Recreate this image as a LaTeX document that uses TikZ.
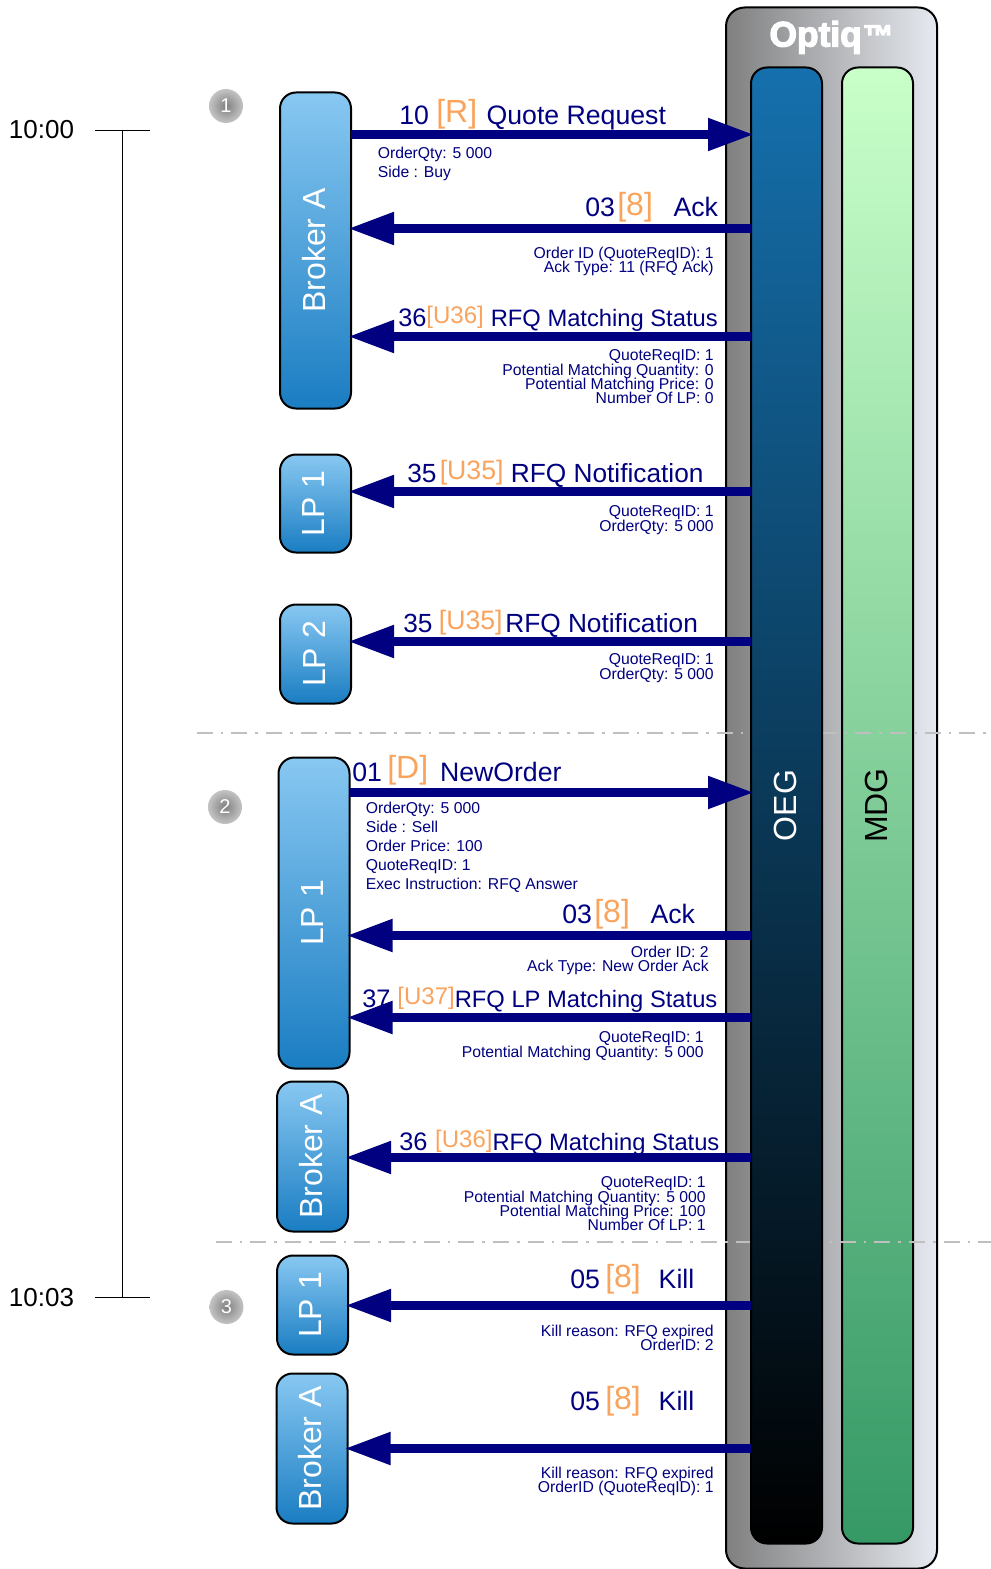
\documentclass[tikz,border=0pt]{standalone}
\usepackage{fontspec}
\setmainfont{Liberation Sans}
\newfontfamily\logofont[FakeBold=3.5]{Liberation Sans Bold}
\usetikzlibrary{arrows.meta,positioning}
\definecolor{msgblue}{HTML}{000080}
\definecolor{tagorange}{HTML}{F9A35C}
\definecolor{actortop}{HTML}{88C8F2}
\definecolor{actorbottom}{HTML}{1A7DC2}
\definecolor{badgeinner}{HTML}{808080}
\definecolor{badgeouter}{HTML}{C4C4C4}
\definecolor{rulegray}{HTML}{BFBFBF}
\definecolor{oegtop}{HTML}{1570AD}
\definecolor{mdgtop}{HTML}{C9FFC9}
\definecolor{mdgbottom}{HTML}{359966}
\definecolor{optiqleft}{HTML}{808080}
\definecolor{optiqright}{HTML}{E6E9F0}
\newcommand{\bigtag}[2][2pt]{\raisebox{#1}{\color{tagorange}\fontsize{24}{24}\selectfont #2}}
\newcommand{\midtag}[1]{\raisebox{2pt}{\color{tagorange}\fontsize{20}{20}\selectfont #1}}
\newcommand{\smalltag}[1]{\raisebox{2.5pt}{\color{tagorange}\fontsize{18}{18}\selectfont #1}}
\newcommand{\narrowname}[1]{{\fontsize{17.8}{18}\selectfont #1}}
\newcommand{\sidelabel}[2][2.5pt]{\rotatebox{90}{#2\rule[-#1]{0pt}{1pt}}}
\newcommand{\tightlines}{\fontsize{11.8}{10.7}\selectfont\setlength{\lineskiplimit}{-10pt}}
\tikzstyle{actor} = [draw=black, line width=1.5pt, rounded corners=12pt, inner sep=0pt, outer sep=0pt, minimum width=53.25pt, top color=actortop, bottom color=actorbottom, text=white, font=\fontsize{24}{24}\selectfont]
\tikzstyle{column} = [draw=black, line width=1.5pt, rounded corners=12pt, inner sep=0pt, outer sep=0pt, minimum width=53.25pt, minimum height=1107pt, font=\fontsize{24}{24}\selectfont]
\tikzstyle{badge} = [circle, inner sep=0pt, minimum size=25.5pt, inner color=badgeinner, outer color=badgeouter, text=white, font=\fontsize{15}{15}\selectfont]
\tikzstyle{msgto} = [line width=6.75pt, draw=msgblue, shorten >=-2.25pt, -{Triangle[length=34.5pt,width=23pt]}]
\tikzstyle{msgname} = [anchor=base west, inner sep=0pt, text=msgblue, font=\fontsize{20}{20}\selectfont]
\tikzstyle{msgnarrow} = [msgname, font=\fontsize{19}{19}\selectfont]
\tikzstyle{detailright} = [anchor=north east, align=right, inner sep=0pt, text=msgblue, font=\tightlines]
\tikzstyle{detailleft} = [anchor=north west, align=left, inner sep=0pt, text=msgblue, font=\fontsize{11.8}{14.4}\selectfont]
\tikzstyle{phase} = [draw=rulegray, line width=1.5pt, dash pattern=on 12pt off 6pt on 2pt off 6pt]
\tikzstyle{clock} = [inner sep=0pt, font=\fontsize{19.5}{20}\selectfont]

\begin{document}
\begin{tikzpicture}[x=0.75pt,y=-0.75pt]

	\useasboundingbox (-0.5,-0.5) rectangle (989.5,1568.5);

	% exchange
	\node[draw=black, line width=1.5pt, rounded corners=14pt, inner sep=0pt, outer sep=0pt, minimum width=158.25pt, minimum height=1170.75pt, left color=optiqleft, right color=optiqright] (optiq) at (831,787.5) {};
	\node[anchor=base, text=white, inner sep=0pt, font=\logofont\fontsize{26.5}{26}\selectfont] (optiqname) at (831,46) {Optiq\hspace{0.8pt}{\fontsize{23}{23}\selectfont ™}};
	\node[column, top color=mdgtop, bottom color=mdgbottom] (mdg) at (877,805) {\sidelabel[1.5pt]{MDG}};

	% phases
	\coordinate (phaseone) at (196,732);
	\coordinate (phaseonend) at (985,732);
	\coordinate (phasetwo) at (215,1241);
	\coordinate (phasetwoend) at (990,1241);
	\draw[phase] (phaseone) -- (phaseonend);
	\draw[phase] (phasetwo) -- (phasetwoend);

	\node[column, top color=oegtop, bottom color=black, text=white] (oeg) at (786,805) {\sidelabel[1.5pt]{OEG}};

	% timeline
	\node[clock] (tenzero) at (41,129) {10:00};
	\node[clock] (tenthree) at (41,1297) {10:03};
	\coordinate (timetop) at (122,129.5);
	\coordinate (timebottom) at (122,1297);
	\draw (timetop) -- (timebottom);
	\draw ([xshift=-20.5pt]timetop) -- ([xshift=20.75pt]timetop);
	\draw ([xshift=-20.5pt]timebottom) -- ([xshift=20.75pt]timebottom);

	\node[badge] (stepone) at (225.5,105.5) {1};
	\node[badge] (steptwo) at (224.5,806.5) {2};
	\node[badge] (stepthree) at (226,1306.5) {3};

	% participants
	\node[actor, minimum height=237pt] (brokerone) at (315,250) {\sidelabel{Broker A}};
	\node[actor, minimum height=73.5pt] (lpone) at (315,503) {\sidelabel{LP 1}};
	\node[actor, minimum height=74.25pt] (lptwo) at (315,653.5) {\sidelabel{LP 2}};
	\node[actor, minimum height=233.25pt] (lpanswer) at (313.5,912.5) {\sidelabel{LP 1}};
	\node[actor, minimum height=112.5pt] (brokertwo) at (312,1156) {\sidelabel{Broker A}};
	\node[actor, minimum height=74.25pt] (lpkill) at (312,1304.5) {\sidelabel{LP 1}};
	\node[actor, minimum height=112.5pt] (brokerkill) at (311.5,1448) {\sidelabel{Broker A}};

	% messages
	\draw[msgto] (brokerone.east |- 0,134) -- (oeg.west |- 0,134);
	\node[msgname] (quotereq) at (398.5,124) {10 \bigtag[1.5pt]{[R]} \hspace{1.5pt}Quote Request};
	\node[detailleft] (quotereqinfo) at (377,146) {OrderQty: 5 000\\Side : Buy};

	\draw[msgto] (oeg.west |- 0,228) -- (brokerone.east |- 0,228);
	\node[msgname] (ackone) at (584.5,216) {03\hspace{1.8pt}\bigtag[0.5pt]{[8]}\hspace{15.5pt}Ack};
	\node[detailright] (ackoneinfo) at (713.5,246) {Order ID (QuoteReqID): 1\\Ack Type: 11 (RFQ Ack)};

	\draw[msgto] (oeg.west |- 0,336) -- (brokerone.east |- 0,336);
	\node[msgnarrow] (statusone) at (397.5,326) {36\smalltag{[U36]} \narrowname{RFQ Matching Status}};
	\node[detailright] (statusoneinfo) at (713.5,349) {QuoteReqID: 1\\Potential Matching Quantity: 0\\Potential Matching Price: 0\\Number Of LP: 0};

	\draw[msgto] (oeg.west |- 0,491) -- (lpone.east |- 0,491);
	\node[msgname, font=\fontsize{19.7}{20}\selectfont] (notifyone) at (406.5,482) {35\hspace{2.5pt}\midtag{[U35]} RFQ Notification};
	\node[detailright] (notifyoneinfo) at (713.5,505) {QuoteReqID: 1\\OrderQty: 5 000};

	\draw[msgto] (oeg.west |- 0,641) -- (lptwo.east |- 0,641);
	\node[msgname, font=\fontsize{19.7}{20}\selectfont] (notifytwo) at (402.5,632) {35\hspace{4.8pt}\midtag{[U35]}\hspace{2pt}RFQ Notification};
	\node[detailright] (notifytwoinfo) at (713.5,653) {QuoteReqID: 1\\OrderQty: 5 000};

	\draw[msgto] (lpanswer.east |- 0,792) -- (oeg.west |- 0,792);
	\node[msgname] (neworder) at (351.5,781) {01\hspace{4pt}\bigtag{[D]} \,NewOrder};
	\node[detailleft] (neworderinfo) at (365,801) {OrderQty: 5 000\\Side : Sell\\Order Price: 100\\QuoteReqID: 1\\Exec Instruction: RFQ Answer};

	\draw[msgto] (oeg.west |- 0,935) -- (lpanswer.east |- 0,935);
	\node[msgname] (acktwo) at (561.5,923) {03\hspace{1.8pt}\bigtag[1pt]{[8]}\hspace{15.5pt}Ack};
	\node[detailright] (acktwoinfo) at (708.5,945) {Order ID: 2\\Ack Type: New Order Ack};

	\draw[msgto] (oeg.west |- 0,1017) -- (lpanswer.east |- 0,1017);
	\node[msgnarrow] (statuslp) at (361.5,1007) {37 \smalltag{[U37]}\narrowname{RFQ LP Matching Status}};
	\node[detailright] (statuslpinfo) at (703.5,1031) {QuoteReqID: 1\\Potential Matching Quantity: 5 000};

	\draw[msgto] (oeg.west |- 0,1157) -- (brokertwo.east |- 0,1157);
	\node[msgnarrow] (statustwo) at (398.5,1150) {36 \hspace{0.5pt}\smalltag{[U36]}\narrowname{RFQ Matching Status}};
	\node[detailright] (statustwoinfo) at (705.5,1176) {QuoteReqID: 1\\Potential Matching Quantity: 5 000\\Potential Matching Price: 100\\Number Of LP: 1};

	\draw[msgto] (oeg.west |- 0,1305) -- (lpkill.east |- 0,1305);
	\node[msgname] (killone) at (569.5,1288) {05\hspace{4pt}\bigtag[0.5pt]{[8]}\hspace{13.4pt}Kill};
	\node[detailright] (killoneinfo) at (713.5,1324) {Kill reason: RFQ expired\\OrderID: 2};

	\draw[msgto] (oeg.west |- 0,1448) -- (brokerkill.east |- 0,1448);
	\node[msgname] (killtwo) at (569.5,1410) {05\hspace{4pt}\bigtag[0.5pt]{[8]}\hspace{13.4pt}Kill};
	\node[detailright] (killtwoinfo) at (713.5,1466) {Kill reason: RFQ expired\\OrderID (QuoteReqID): 1};

\end{tikzpicture}
\end{document}
